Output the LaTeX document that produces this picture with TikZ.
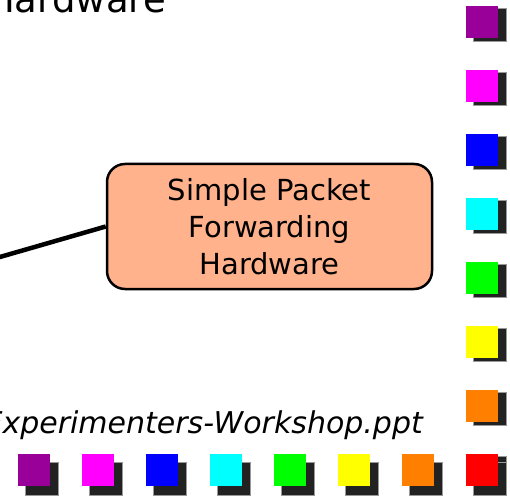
\documentclass[tikz,border=0pt]{standalone}
\usepackage{fontspec}
\setmainfont{DejaVu Sans}
\usepackage{tikz}
\usetikzlibrary{positioning, calc}
\definecolor{sqpurple}{RGB}{153, 0, 153}
\definecolor{sqmagenta}{RGB}{255, 0, 255}
\definecolor{sqblue}{RGB}{0, 0, 255}
\definecolor{sqcyan}{RGB}{0, 255, 255}
\definecolor{sqgreen}{RGB}{0, 255, 0}
\definecolor{sqyellow}{RGB}{255, 255, 0}
\definecolor{sqorange}{RGB}{255, 128, 0}
\definecolor{sqred}{RGB}{255, 0, 0}
\definecolor{salmonfill}{RGB}{255, 178, 140}
\definecolor{shadowgray}{RGB}{34, 34, 34}
\tikzset{
  hwbox/.style={draw=black, fill=salmonfill, rounded corners=18pt, line width=2.5pt,
    minimum width=325pt, minimum height=125pt, align=center,
    font=\fontsize{29}{37}\selectfont},
  linkline/.style={line width=4.5pt, black},
  sqshadow/.style={fill=shadowgray, draw=gray!80, line width=0.8pt},
  titletext/.style={font=\fontsize{37}{44}\selectfont, inner sep=0pt},
  footertext/.style={font=\fontsize{30}{36}\selectfont\itshape, inner sep=0pt}
}

\begin{document}
\begin{tikzpicture}[x=1pt, y=1pt]
    \useasboundingbox (0, 0) rectangle (510, 498);
    \begin{scope}
    \clip (0, 0) rectangle (510, 498);

    % --- TITLE (cut off at the top) ---
    \node[titletext, anchor=base east] (title) at (166, 485) {Hardware};

    % --- FORWARDING HARDWARE BOX ---
    \node[hwbox] (fwd) at (269.5, 271.5) {Simple Packet\\Forwarding\\Hardware};
    \coordinate (linkend) at (-40, 229.5);
    \draw[linkline] (fwd.west) -- (linkend);

    % --- FOOTER ---
    \node[footertext, anchor=base east] (footer) at (423, 65) {Experimenters-Workshop.ppt};

    % --- COLOURED SQUARES (right column and bottom row) ---
    \foreach \c [count=\i from 0] in {sqpurple, sqmagenta, sqblue, sqcyan, sqgreen, sqyellow, sqorange, sqred} {
        % right column
        \filldraw[sqshadow] (473, 490 - 64*\i) rectangle (506, 457 - 64*\i);
        \fill[\c] (466, 492 - 64*\i) rectangle (498, 460 - 64*\i);
        % bottom row
        \filldraw[sqshadow] (25 + 64*\i, 36) rectangle (58 + 64*\i, 3);
        \fill[\c] (18 + 64*\i, 44) rectangle (50 + 64*\i, 12);
    }
    \end{scope}
\end{tikzpicture}
\end{document}
